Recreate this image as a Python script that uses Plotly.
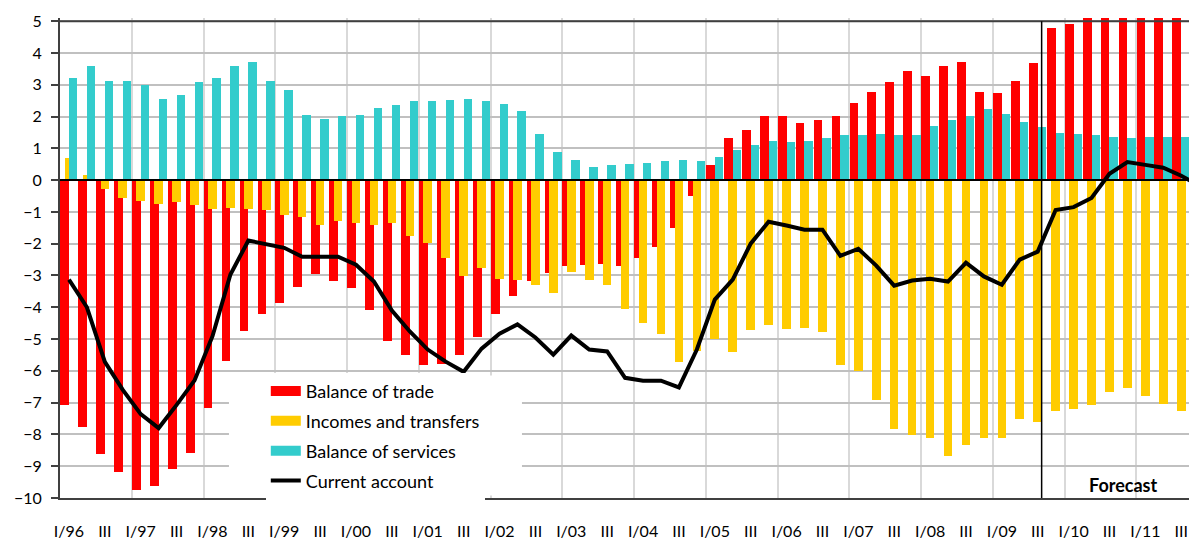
import plotly.graph_objects as go
import numpy as np

# Quarterly categories 1996 Q1 .. 2011 Q4
quarters = [f"{q}/{str(y)[2:]}" for y in range(1996, 2012) for q in ("I", "II", "III", "IV")]

tick_labels = ["I/96", "III", "I/97", "III", "I/98", "III", "I/99", "III",
               "I/00", "III", "I/01", "III", "I/02", "III", "I/03", "III",
               "I/04", "III", "I/05", "III", "I/06", "III", "I/07", "III",
               "I/08", "III", "I/09", "III", "I/10", "III", "I/11", "III"]

trade = [-7.08, -7.77, -8.62, -9.18, -9.75, -9.62, -9.09, -8.59, -7.18, -5.69,
         -4.76, -4.20, -3.85, -3.35, -2.94, -3.16, -3.38, -4.10, -5.07, -5.51,
         -5.83, -5.77, -5.51, -4.95, -4.20, -3.63, -3.17, -2.91, -2.69, -2.66,
         -2.63, -2.69, -2.44, -2.09, -1.50, -0.49, 0.48, 1.33, 1.58, 2.02,
         2.02, 1.80, 1.89, 2.02, 2.43, 2.77, 3.08, 3.43, 3.27, 3.59,
         3.71, 2.77, 2.74, 3.12, 3.68, 4.78, 4.90, 5.10, 5.51, 5.78,
         5.91, 6.07, 6.05, 5.97]

incomes = [0.70, 0.17, -0.27, -0.56, -0.65, -0.74, -0.68, -0.77, -0.90, -0.87,
           -0.90, -0.93, -1.09, -1.15, -1.40, -1.28, -1.34, -1.40, -1.34, -1.75,
           -1.97, -2.44, -3.03, -2.78, -3.10, -3.13, -3.29, -3.54, -2.88, -3.13,
           -3.29, -4.04, -4.48, -4.83, -5.71, -5.36, -5.01, -5.42, -4.70, -4.57,
           -4.67, -4.64, -4.79, -5.82, -6.01, -6.92, -7.84, -8.02, -8.12, -8.69,
           -8.34, -8.12, -8.12, -7.52, -7.62, -7.27, -7.20, -7.08, -6.67, -6.54,
           -6.79, -7.04, -7.27, -7.48]

services = [3.21, 3.59, 3.12, 3.12, 2.99, 2.55, 2.68, 3.08, 3.21, 3.59,
            3.71, 3.12, 2.83, 2.05, 1.92, 2.02, 2.05, 2.27, 2.36, 2.49,
            2.49, 2.52, 2.55, 2.49, 2.39, 2.17, 1.45, 0.89, 0.64, 0.42,
            0.48, 0.51, 0.54, 0.61, 0.64, 0.61, 0.73, 0.95, 1.11, 1.23,
            1.20, 1.23, 1.33, 1.42, 1.42, 1.45, 1.42, 1.42, 1.70, 1.89,
            2.02, 2.24, 2.08, 1.83, 1.67, 1.48, 1.45, 1.42, 1.36, 1.33,
            1.36, 1.36, 1.36, 1.36]

current = [-3.13, -4.00, -5.72, -6.60, -7.36, -7.80, -7.07, -6.30, -4.91, -2.97,
           -1.90, -2.00, -2.13, -2.41, -2.41, -2.41, -2.66, -3.19, -4.10, -4.76,
           -5.33, -5.71, -6.03, -5.30, -4.83, -4.54, -4.95, -5.49, -4.89, -5.33,
           -5.39, -6.22, -6.31, -6.31, -6.52, -5.33, -3.76, -3.13, -2.00, -1.31,
           -1.43, -1.56, -1.56, -2.38, -2.16, -2.69, -3.32, -3.16, -3.10, -3.19,
           -2.60, -3.03, -3.29, -2.50, -2.25, -0.94, -0.85, -0.56, 0.20, 0.57,
           0.48, 0.39, 0.14, -0.17]

forecast_start = 54.22  # position of the forecast divider (in quarter index units)

x = np.arange(len(quarters))
year_bounds = [i - 0.5 for i in range(4, len(quarters), 4)]

FONT = "Lato"
AX = "#404040"

bar_series = [
    ("Balance of trade", trade, "#FF0000", -0.49, 0.49, "g1"),
    ("Incomes and transfers", incomes, "#FFCC00", -0.24, 0.48, "g2"),
    ("Balance of services", services, "#33CCCC", 0.0, 0.47, "g3"),
]

fig = go.Figure()
for name, vals, color, off, wid, grp in bar_series:
    fig.add_trace(go.Bar(x=x, y=vals, name=name, customdata=quarters,
                         legendgroup=grp, showlegend=False,
                         marker=dict(color=color, line=dict(width=0)),
                         offset=off, width=wid))
# legend keys drawn as wide rectangles (Excel style) linked to the bar series
for name, vals, color, off, wid, grp in bar_series:
    fig.add_trace(go.Scatter(x=[None], y=[None], name=name, mode="lines",
                             legendgroup=grp, showlegend=True, hoverinfo="skip",
                             line=dict(color=color, width=15)))
fig.add_trace(go.Scatter(x=x, y=current, name="Current account", mode="lines",
                         customdata=quarters, legendgroup="g4",
                         line=dict(color="black", width=4)))

fig.update_layout(
    # the page body adds an 8px margin, so the figure is sized to end at the window edge
    width=1189, height=533,
    margin=dict(l=52, r=0, t=10, b=43, autoexpand=False),
    barmode="overlay", bargap=0,
    plot_bgcolor="white", paper_bgcolor="white",
    font=dict(family=FONT, color="black", size=16),
    showlegend=True,
    legend=dict(x=0.181, y=0.261, xanchor="left", yanchor="top",
                bgcolor="white", borderwidth=0, tracegroupgap=3.5,
                font=dict(family=FONT, size=18, color="black")),
    shapes=[
        # white background behind legend (covers gridlines)
        dict(type="rect", xref="x domain", yref="y domain",
             x0=0.1486, x1=0.4063, y0=0.005, y1=0.255,
             fillcolor="white", line=dict(width=0), layer="above"),
        # top border at 5
        dict(type="line", xref="x domain", yref="y", x0=0, x1=1, y0=5, y1=5,
             line=dict(color=AX, width=2), layer="above"),
        # zero line
        dict(type="line", xref="x domain", yref="y", x0=0, x1=1, y0=0, y1=0,
             line=dict(color="black", width=2), layer="above"),
        # forecast divider
        dict(type="line", xref="x", yref="y", x0=forecast_start, x1=forecast_start,
             y0=-10, y1=5, line=dict(color="black", width=1.5), layer="above"),
    ],
    annotations=[
        dict(text="<b>Forecast</b>", x=58.8, y=-9.6, xref="x", yref="y",
             showarrow=False, font=dict(family=FONT, size=18, color="black")),
    ],
)

fig.update_xaxes(
    range=[-0.5, 62.88],
    tickmode="array", tickvals=x[::2], ticktext=tick_labels,
    ticks="", showgrid=False, zeroline=False,
    showline=True, linecolor=AX, linewidth=2,
    tickfont=dict(family=FONT, size=16, color="black"),
    ticklabelstandoff=18,
    minor=dict(tickmode="array", tickvals=year_bounds, showgrid=True,
               gridcolor="#d9d9d9", gridwidth=2, ticks=""),
)
fig.update_yaxes(
    range=[-10, 5.1], tickmode="linear", tick0=0, dtick=1,
    showgrid=True, gridcolor="#c0c0c0", gridwidth=1.5,
    zeroline=False,
    ticks="outside", ticklen=7, tickwidth=1.5, tickcolor=AX,
    showline=True, linecolor=AX, linewidth=2,
    tickfont=dict(family=FONT, size=16, color="black"),
    ticklabelstandoff=6,
)

fig.write_html("out.html")
